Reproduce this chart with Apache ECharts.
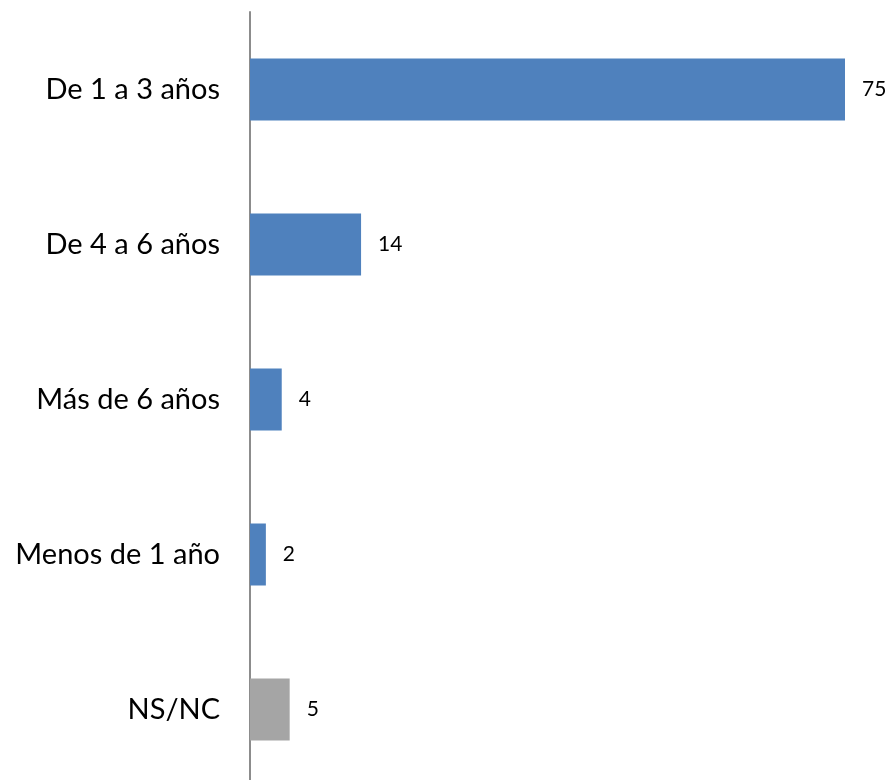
<!DOCTYPE html>
<html>
<head>
<meta charset="utf-8">
<script src="https://cdn.jsdelivr.net/npm/echarts@6/dist/echarts.min.js"></script>
<style>
  html, body { margin: 0; padding: 0; background: #fff; overflow: hidden; }
  #main { width: 891px; height: 787px; }
</style>
</head>
<body>
<div id="main"></div>
<script>
// categories listed bottom to top (ECharts category y axis starts at bottom)
var categories = ['NS/NC', 'Menos de 1 año', 'Más de 6 años', 'De 4 a 6 años', 'De 1 a 3 años'];
var values = [5, 2, 4, 14, 75];
var barColors = ['#A5A5A5', '#4F81BD', '#4F81BD', '#4F81BD', '#4F81BD'];

var chart = echarts.init(document.getElementById('main'));
chart.setOption({
    animation: false,
    grid: { left: 250, right: 46, top: 12, bottom: 0 },
    xAxis: {
        type: 'value',
        min: 0,
        max: 75,
        show: false
    },
    yAxis: {
        type: 'category',
        data: categories,
        axisLine: { show: true, lineStyle: { color: '#8C8C8C', width: 2 } },
        axisTick: { show: false },
        axisLabel: {
            color: '#000',
            fontSize: 29,
            fontFamily: 'Lato',
            margin: 30
        }
    },
    series: [{
        type: 'bar',
        barWidth: 62,
        data: values.map(function (v, i) {
            return { value: v, itemStyle: { color: barColors[i] } };
        }),
        label: {
            show: true,
            position: 'right',
            distance: 17,
            color: '#000',
            fontSize: 21,
            fontFamily: 'Lato'
        }
    }]
});
</script>
</body>
</html>
